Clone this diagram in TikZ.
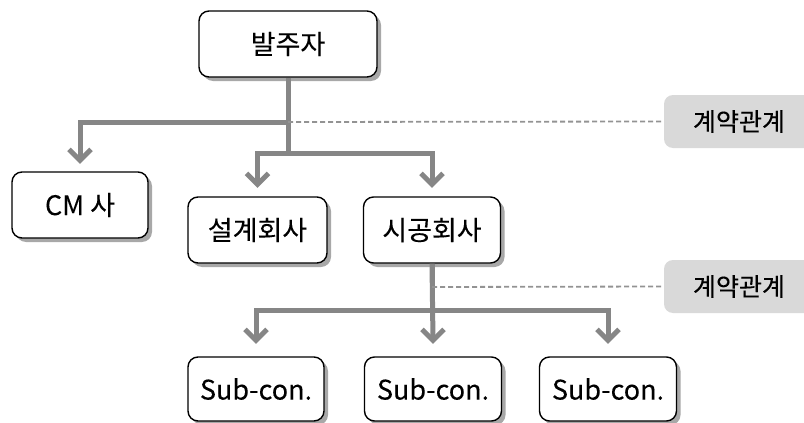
\documentclass[tikz,border=0pt]{standalone}
\usepackage{fontspec}
\setmainfont{Noto Sans CJK KR}[FakeBold=0.15]
\usetikzlibrary{arrows.meta,shadows,calc}
\definecolor{conncol}{HTML}{868686}
\definecolor{dashcol}{HTML}{939393}
\definecolor{labfill}{HTML}{D9D9D9}
\definecolor{shadowcol}{HTML}{A8A8A8}
\begin{document}
\begin{tikzpicture}[x=1pt,y=-1pt,
  box/.style={draw=black, line width=1.4pt, rounded corners=10pt, fill=white,
    minimum height=66pt, inner sep=0pt, font=\fontsize{27}{31}\selectfont,
    drop shadow={shadow xshift=4pt, shadow yshift=-4pt, fill=shadowcol, opacity=1}},
  lab/.style={fill=labfill, rounded corners=9pt, minimum width=150pt, minimum height=53pt,
    inner sep=0pt, font=\fontsize{25}{29}\selectfont},
  conn/.style={draw=conncol, line width=5pt},
  chev/.style={draw=conncol, line width=5pt, miter limit=10, line join=miter},
  dashln/.style={draw=dashcol, line width=1.8pt, dash pattern=on 5pt off 3pt}]
\useasboundingbox (0,0) rectangle (804,423);

% nodes
\node[box, minimum width=178pt] (ba) at (288,44) {발주자};
\node[box, minimum width=136pt] (cm) at (80,205) {CM 사};
\node[box, minimum width=139pt] (des) at (257.5,230) {설계회사};
\node[box, minimum width=137pt] (con) at (432,230) {시공회사};
\node[box, minimum width=136pt, minimum height=64pt] (s1) at (256,389) {Sub-con.};
\node[box, minimum width=137pt, minimum height=64pt] (s2) at (433,389) {Sub-con.};
\node[box, minimum width=137pt, minimum height=64pt] (s3) at (608,389) {Sub-con.};
\node[lab] (l1) at (739,121.5) {계약관계};
\node[lab] (l2) at (739,286.5) {계약관계};

% junction points
\coordinate (j1) at (288,122);
\coordinate (j2) at (288,153);
\coordinate (k1) at (432,287);
\coordinate (k2) at (432,310);

% arrow tip vertices
\coordinate (tcm) at ([yshift=11pt]cm.north);
\coordinate (tdes) at ([yshift=12pt]des.north);
\coordinate (tcon) at ([yshift=12pt]con.north);
\coordinate (ts1) at ([yshift=16pt]s1.north);
\coordinate (ts2) at ([yshift=16pt]s2.north);
\coordinate (ts3) at ([yshift=16pt]s3.north);

% top level connectors
\draw[conn] (ba.south) -- (j2);
\draw[conn] (j1) -| (tcm);
\draw[conn] (j2) -| (tdes);
\draw[conn] (j2) -| (tcon);
\draw[dashln] (j1) -- (l1.west);

% second level connectors
\draw[conn] (con.south) -- (k2);
\draw[conn] (k2) -| (ts1);
\draw[conn] (con.south) -- (ts2);
\draw[conn] (k2) -| (ts3);
\draw[dashln] (k1) -- (l2.west);

% chevron arrowheads
\foreach \t in {tcm,tdes,tcon,ts1,ts2,ts3}
  \draw[chev] ([shift={(-11,-11)}]\t) -- (\t) -- ([shift={(11,-11)}]\t);
\end{tikzpicture}
\end{document}
